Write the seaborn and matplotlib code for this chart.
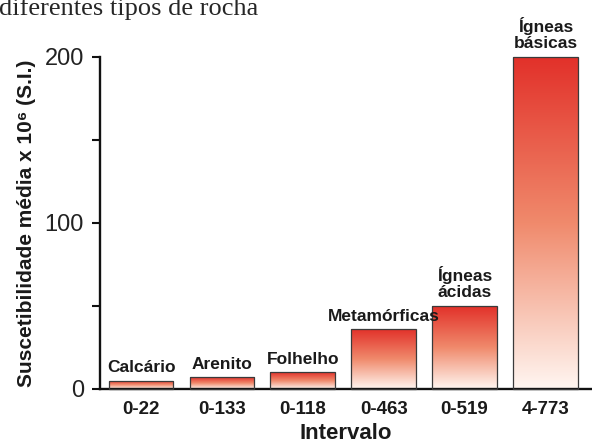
import numpy as np
import pandas as pd
import seaborn as sns
import matplotlib.pyplot as plt
from matplotlib.colors import LinearSegmentedColormap
from matplotlib.ticker import MultipleLocator

# data
rock_types = ['Calcário', 'Arenito', 'Folhelho', 'Metamórficas', 'Ígneas\nácidas', 'Ígneas\nbásicas']
intervals = ['0-22', '0-133', '0-118', '0-463', '0-519', '4-773']
mean_susc = [5, 7, 10, 36, 50, 200]

df = pd.DataFrame({'intervalo': intervals, 'media': mean_susc, 'rocha': rock_types})

sns.set_style('ticks')
plt.rcParams['font.family'] = ['Liberation Sans', 'DejaVu Sans']

fig = plt.figure(figsize=(5.92, 4.45), dpi=100)
ax = fig.add_axes([0.169, 0.126, 0.831, 0.746])

sns.barplot(data=df, x='intervalo', y='media', color='white', width=0.8,
            edgecolor='#3a3a3a', linewidth=0.9, ax=ax)

# red-to-white gradient fill inside each bar
cmap = LinearSegmentedColormap.from_list('rw', ['#fff6f1', '#f08a6c', '#e2312a'])
grad = np.linspace(0, 1, 256).reshape(-1, 1)
for p in ax.patches:
    p.set_facecolor('none')
    p.set_zorder(3)
    x0, y0 = p.get_x(), p.get_y()
    w, h = p.get_width(), p.get_height()
    im = ax.imshow(grad, extent=[x0, x0 + w, y0, y0 + h], origin='lower',
                   aspect='auto', cmap=cmap, zorder=2, interpolation='bilinear')
    im.set_clip_path(p)
    p.set_clip_on(False)

for i, (name, val) in enumerate(zip(rock_types, mean_susc)):
    ax.annotate(name, (i, val), xytext=(0, 4), textcoords='offset points',
                ha='center', va='bottom', fontsize=12.5, fontweight='bold',
                color='#1a1a1a', linespacing=1.1, annotation_clip=False)

ax.set_xlim(-0.507, 5.575)
ax.set_ylim(0, 200)
ax.yaxis.set_major_locator(MultipleLocator(100))
ax.yaxis.set_minor_locator(MultipleLocator(50))
ax.tick_params(axis='y', which='both', direction='out', length=5.5, width=1.5,
               pad=6, labelsize=17, color='#111111', labelcolor='#222222')
ax.tick_params(axis='x', length=0, pad=9, labelsize=13.5, labelcolor='#1a1a1a')
for lab in ax.get_xticklabels():
    lab.set_fontweight('bold')

sns.despine(ax=ax)
ax.spines['left'].set_linewidth(1.7)
ax.spines['bottom'].set_linewidth(1.7)
ax.spines['left'].set_color('#111111')
ax.spines['bottom'].set_color('#111111')

ax.set_xlabel('Intervalo', fontsize=16, fontweight='bold', labelpad=3,
              color='#1a1a1a')
ax.set_ylabel('Suscetibilidade média x 10⁶ (S.I.)', fontsize=15,
              fontweight='bold', labelpad=6, color='#1a1a1a')

fig.text(0.436, 0.966, 'diferentes tipos de rocha', ha='right', va='baseline',
         fontsize=19, family='Liberation Serif')

fig.savefig('out.png', dpi=100)
